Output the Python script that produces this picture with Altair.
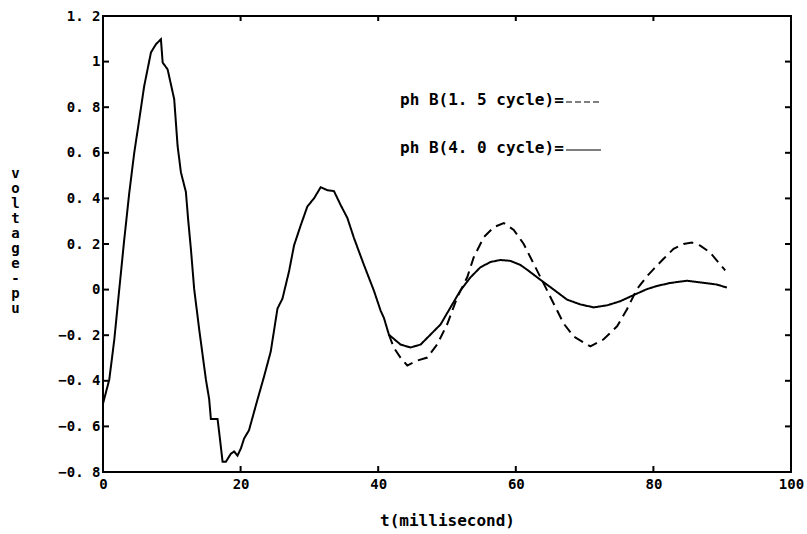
import altair as alt
import pandas as pd

# ---- data ----
# portion common to both runs (t in ms, v in pu)
t_shared = [0, 0.91, 1.64, 2.36, 3.09, 3.82, 4.54, 5.27, 5.99, 6.97, 7.69, 8.42, 8.67, 9.39,
            10.35, 10.84, 11.32, 12.05, 12.37, 12.78, 13.25, 13.98, 14.95, 15.43, 15.68, 16.65,
            16.88, 17.38, 17.86, 18.58, 19.06, 19.55, 20.04, 20.51, 21.22, 22.29, 23.41, 24.38,
            25.36, 26.08, 27.04, 27.77, 28.74, 29.71, 30.67, 31.64, 32.61, 33.57, 34.54,
            35.52, 36.48, 37.93, 39.38, 40.36, 40.83, 41.56]
v_shared = [-0.50, -0.395, -0.22, 0.0, 0.22, 0.425, 0.60, 0.746, 0.893, 1.04, 1.076, 1.098,
            0.996, 0.966, 0.835, 0.631, 0.515, 0.428, 0.309, 0.177, 0.003, -0.174, -0.393,
            -0.48, -0.567, -0.567, -0.624, -0.755, -0.755, -0.72, -0.71, -0.728, -0.697,
            -0.653, -0.617, -0.50, -0.381, -0.272, -0.083, -0.04, 0.08, 0.194, 0.282, 0.365,
            0.40, 0.449, 0.436, 0.432, 0.371, 0.314, 0.226, 0.108, -0.005, -0.093, -0.124,
            -0.198]

# ph B (4.0 cycle) - solid, after the curves separate
t_4cyc = [43.25, 44.70, 46.16, 47.61, 49.06, 50.51, 51.97, 53.42, 54.86, 56.32, 57.78, 59.20,
          60.67, 61.65, 63.58, 65.51, 67.45, 69.39, 71.32, 73.27, 75.19, 77.12, 79.06, 80.52,
          82.44, 84.88, 87.27, 89.22, 90.68]
v_4cyc = [-0.241, -0.254, -0.241, -0.197, -0.153, -0.078, -0.003, 0.054, 0.098, 0.121, 0.13,
          0.126, 0.108, 0.087, 0.043, 0.0, -0.044, -0.065, -0.078, -0.069, -0.051, -0.024,
          0.002, 0.016, 0.029, 0.039, 0.03, 0.022, 0.009]

# ph B (1.5 cycle) - dashed, after the curves separate
t_15cyc = [42.28, 43.26, 44.23, 45.68, 47.14, 48.58, 50.03, 51.49, 52.94, 53.89, 55.35, 56.80,
           58.25, 59.70, 61.15, 62.60, 64.06, 65.51, 66.96, 68.42, 70.84, 72.77, 74.72, 76.16,
           77.61, 79.07, 80.03, 81.48, 82.93, 84.38, 85.60, 86.81, 88.26, 89.46, 90.44]
v_15cyc = [-0.255, -0.299, -0.333, -0.311, -0.298, -0.24, -0.152, -0.034, 0.054, 0.142, 0.23,
           0.274, 0.292, 0.262, 0.2, 0.113, 0.026, -0.062, -0.149, -0.206, -0.249, -0.218,
           -0.161, -0.086, 0.002, 0.059, 0.09, 0.135, 0.179, 0.2, 0.206, 0.193, 0.162, 0.119,
           0.084]

series_names = ["ph B(1. 5 cycle)", "ph B(4. 0 cycle)"]
legend_labels = ["ph B(1. 5 cycle)=", "ph B(4. 0 cycle)="]
x_ticks = [0, 20, 40, 60, 80, 100]
y_ticks = [-0.8, -0.6, -0.4, -0.2, 0, 0.2, 0.4, 0.6, 0.8, 1, 1.2]
x_title = "t(millisecond)"
y_title = "voltage-pu"

# ---- tables ----
solid_t = t_shared + t_4cyc
solid_v = v_shared + v_4cyc
dash_t = [t_shared[-1]] + t_15cyc
dash_v = [v_shared[-1]] + v_15cyc
df = pd.DataFrame({
    "t": solid_t + dash_t,
    "v": solid_v + dash_v,
    "series": [series_names[1]] * len(solid_t) + [series_names[0]] * len(dash_t),
    "order": list(range(len(solid_t))) + list(range(len(dash_t))),
})
df_yt = pd.DataFrame({"v": y_ticks})
df_xt = pd.DataFrame({"t": x_ticks[1:-1]})
df_leg1 = pd.DataFrame({"label": [legend_labels[0]]})
df_leg2 = pd.DataFrame({"label": [legend_labels[1]]})

FONT = "DejaVu Sans Mono"
W, H = 688, 456

x_scale = alt.Scale(domain=[0, 100], nice=False, zero=False)
y_scale = alt.Scale(domain=[-0.8, 1.2], nice=False, zero=False)

x_axis = alt.Axis(values=x_ticks, title=x_title, ticks=False, domain=False, grid=False,
                  labelFont=FONT, labelFontSize=14, labelFontWeight="bold",
                  labelColor="black", labelPadding=5, labelFlush=False,
                  titleFont=FONT, titleFontSize=16, titleFontWeight="bold",
                  titleColor="black", titleY=48, titleBaseline="middle")
y_axis = alt.Axis(values=y_ticks, format="~g", labelExpr="replace(datum.label, '.', '. ')",
                  title=list(y_title), titleAngle=0, titleX=-88, titleY=157,
                  titleAlign="center", titleBaseline="middle", titleLineHeight=15,
                  ticks=False, domain=False, grid=False,
                  labelFont=FONT, labelFontSize=14, labelFontWeight="bold",
                  labelColor="black", labelPadding=3, labelFlush=False,
                  titleFont=FONT, titleFontSize=14, titleFontWeight="bold",
                  titleColor="black")

lines = alt.Chart(df).mark_line(color="black", strokeWidth=2).encode(
    x=alt.X("t:Q", scale=x_scale, axis=x_axis),
    y=alt.Y("v:Q", scale=y_scale, axis=y_axis),
    detail="series:N",
    order="order:Q",
    strokeDash=alt.StrokeDash("series:N",
                              scale=alt.Scale(domain=series_names, range=[[10, 6], [1, 0]]),
                              legend=None),
)

left_ticks = alt.Chart(df_yt).mark_rule(color="black", strokeWidth=2).encode(
    y=alt.Y("v:Q", scale=y_scale, axis=y_axis), x=alt.value(0), x2=alt.value(6))
right_ticks = alt.Chart(df_yt).mark_rule(color="black", strokeWidth=2).encode(
    y=alt.Y("v:Q", scale=y_scale, axis=y_axis), x=alt.value(W - 6), x2=alt.value(W))
bottom_ticks = alt.Chart(df_xt).mark_rule(color="black", strokeWidth=2).encode(
    x=alt.X("t:Q", scale=x_scale, axis=x_axis), y=alt.value(H), y2=alt.value(H - 6))
top_ticks = alt.Chart(df_xt).mark_rule(color="black", strokeWidth=2).encode(
    x=alt.X("t:Q", scale=x_scale, axis=x_axis), y=alt.value(0), y2=alt.value(5))

leg_text1 = alt.Chart(df_leg1).mark_text(align="left", baseline="middle", font=FONT,
                                         fontSize=16, fontWeight="bold", color="black").encode(
    x=alt.value(297), y=alt.value(84), text="label:N")
leg_text2 = alt.Chart(df_leg2).mark_text(align="left", baseline="middle", font=FONT,
                                         fontSize=16, fontWeight="bold", color="black").encode(
    x=alt.value(297), y=alt.value(132), text="label:N")
leg_line1 = alt.Chart(df_leg1).mark_rule(color="black", strokeWidth=1.2, strokeDash=[6, 3]).encode(
    x=alt.value(463), x2=alt.value(498), y=alt.value(86))
leg_line2 = alt.Chart(df_leg2).mark_rule(color="black", strokeWidth=1.2).encode(
    x=alt.value(463), x2=alt.value(498), y=alt.value(134))

chart = alt.layer(
    lines, left_ticks, right_ticks, bottom_ticks, top_ticks,
    leg_text1, leg_text2, leg_line1, leg_line2,
).properties(
    width=W, height=H,
    autosize=alt.AutoSizeParams(type="none"),
    padding={"left": 103, "top": 16, "right": 16, "bottom": 62},
    background="white",
).configure_view(stroke="black", strokeWidth=2)

chart.save("out.html", embed_options={"renderer": "svg", "actions": False})
